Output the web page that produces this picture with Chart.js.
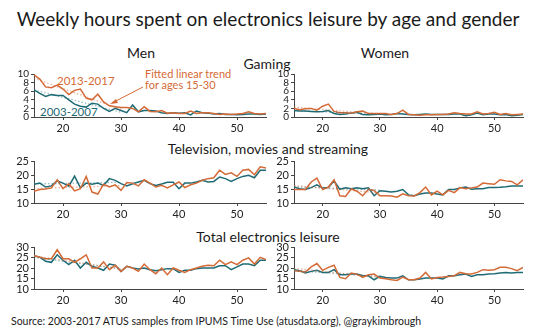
<!DOCTYPE html>
<html><head><meta charset="utf-8">
<script src="https://cdn.jsdelivr.net/npm/chart.js@4"></script>
<style>
html,body{margin:0;padding:0;background:#fff}
body{width:535px;height:334px;overflow:hidden;position:relative;font-family:Lato,"Noto Sans",sans-serif;color:#1a1a1a}
.t{position:absolute;white-space:nowrap;transform:translate(-50%,-50%);line-height:1}
.l{position:absolute;white-space:nowrap;line-height:1}
canvas{position:absolute}
svg{position:absolute;left:0;top:0}
</style></head><body>
<div class="t" style="left:268px;top:18px;font-size:19px">Weekly hours spent on electronics leisure by age and gender</div>
<div class="t" style="left:141px;top:53px;font-size:14px">Men</div>
<div class="t" style="left:385px;top:53px;font-size:14px">Women</div>
<div class="t" style="left:267px;top:64px;font-size:14px">Gaming</div>
<div class="t" style="left:268px;top:149px;font-size:14px">Television, movies and streaming</div>
<div class="t" style="left:268px;top:237px;font-size:14px">Total electronics leisure</div>
<div class="l" style="left:11px;top:316px;font-size:10.5px">Source: 2003-2017 ATUS samples from IPUMS Time Use (atusdata.org), @graykimbrough</div>
<div class="l" style="left:57px;top:75px;font-size:11.5px;color:#d46a36">2013-2017</div>
<div class="l" style="left:40px;top:106px;font-size:11.5px;color:#1f6b75">2003-2007</div>
<div class="l" style="left:145px;top:68px;font-size:11px;color:#d46a36;line-height:11px">Fitted linear trend<br>for ages 15-30</div>
<svg width="535" height="334"><line x1="143" y1="87" x2="112" y2="103" stroke="#d46a36" stroke-width="1"/><path d="M110,104 L118,103 L116,99 Z" fill="#d46a36"/></svg>
<canvas id="c1"></canvas><canvas id="c2"></canvas><canvas id="c3"></canvas>
<canvas id="c4"></canvas><canvas id="c5"></canvas><canvas id="c6"></canvas>
<script>
const ages = [15,16,17,18,19,20,21,22,23,24,25,26,27,28,29,30,31,32,33,34,35,36,37,38,39,40,41,42,43,44,45,46,47,48,49,50,51,52,53,54,55];
const trendAges = [15, 30];
const xTickValues = [20, 30, 40, 50];
const gamingTicks = [0, 2, 4, 6, 8, 10];
const tvTicks = [10, 15, 20, 25];
const totalTicks = [10, 15, 20, 25, 30];

const menGaming2003 = [6.3,5.5,4.8,5.2,5.0,5.0,4.0,3.0,2.5,2.3,3.2,3.0,2.0,1.3,2.0,1.5,1.0,2.8,1.2,1.5,1.5,1.4,1.0,0.8,1.0,0.9,1.0,0.5,1.4,1.0,0.9,0.7,0.8,0.6,0.6,0.5,0.6,0.7,0.7,0.6,0.7];
const menGaming2013 = [9.8,8.8,7.0,6.8,7.4,6.5,5.2,6.2,6.5,4.4,4.0,5.3,3.5,2.6,2.4,2.2,2.2,2.0,1.2,2.4,1.3,1.2,1.5,0.9,1.0,0.8,0.8,1.4,0.8,1.0,1.0,0.8,0.6,0.7,0.6,0.7,0.8,1.2,0.8,0.7,0.8];
const womenGaming2003 = [1.5,1.4,1.4,1.3,1.2,1.3,1.5,0.8,0.6,0.7,0.9,1.1,0.6,0.5,0.6,0.7,0.5,0.6,0.8,0.7,0.6,0.5,0.6,0.7,0.6,0.6,0.6,0.6,0.7,0.7,0.3,0.5,0.9,0.5,0.7,0.7,0.5,0.6,0.3,0.4,0.6];
const womenGaming2013 = [2.0,1.7,1.9,2.0,1.6,2.5,3.0,1.3,1.0,1.0,0.9,1.2,1.4,0.8,0.8,0.8,0.8,0.6,0.8,1.6,0.6,0.5,0.4,0.5,0.5,0.6,0.6,0.7,1.0,0.8,0.7,0.7,1.2,0.7,0.8,1.1,0.6,0.8,0.5,0.6,0.7];
const menTv2003 = [16.7,17.1,15.7,16.1,17.9,17.1,16.0,19.6,15.4,17.1,16.7,17.1,16.3,18.7,18.1,16.9,16.1,16.9,17.5,18.1,16.9,16.3,16.8,17.4,17.4,15.1,17.1,17.1,17.5,18.1,17.5,17.7,19.3,18.7,17.7,18.7,19.5,19.9,19.0,21.7,21.7];
const menTv2013 = [14.2,14.8,15.0,15.4,18.3,15.1,16.9,14.3,15.1,19.5,13.9,13.2,16.7,15.7,16.5,14.5,17.3,17.1,16.1,18.3,17.1,15.7,16.3,15.4,16.5,17.5,15.5,16.5,17.1,18.1,18.7,19.0,21.7,20.2,20.8,19.5,21.7,22.0,20.1,22.9,22.5];
const womenTv2003 = [15.7,15.1,14.8,15.5,16.5,15.4,15.5,17.9,14.9,15.4,15.1,15.4,15.1,15.4,12.6,14.4,14.2,13.9,14.2,14.8,12.9,12.6,13.2,13.6,13.6,13.2,12.9,14.8,14.8,15.4,15.7,14.9,15.1,15.1,15.5,15.5,15.6,15.8,16.1,16.1,16.1];
const womenTv2013 = [14.8,14.8,14.8,17.5,18.9,14.8,15.7,18.3,12.6,12.3,15.1,14.2,12.6,14.9,14.5,12.6,12.6,12.5,12.1,13.3,12.6,12.5,13.7,15.7,12.9,14.2,12.9,14.5,13.7,15.5,15.1,15.4,15.7,17.1,16.9,16.7,18.3,17.9,17.7,16.5,18.3];
const menTotal2003 = [25.9,25.2,23.2,22.7,26.3,23.7,21.6,23.7,20.0,22.7,20.8,20.0,18.9,21.9,21.3,18.4,20.8,20.0,19.5,20.0,19.2,18.7,19.2,19.7,19.7,17.9,18.9,18.9,19.7,20.0,20.0,20.0,21.1,21.1,19.2,20.5,21.9,21.9,21.1,23.7,23.7];
const menTotal2013 = [25.9,25.1,24.4,24.4,28.7,24.4,24.4,22.7,24.4,26.3,20.0,20.0,22.9,19.2,21.3,18.4,20.8,20.0,18.4,21.9,19.2,17.3,20.0,16.8,20.0,18.9,17.9,19.2,20.0,20.8,21.3,21.1,23.7,21.6,22.9,21.6,23.7,24.8,21.9,25.1,24.0];
const womenTotal2003 = [19.2,18.7,17.6,18.4,18.9,17.9,17.9,19.2,16.8,16.8,17.1,17.1,16.3,16.3,14.4,16.0,15.5,15.2,15.2,16.3,14.4,14.4,14.8,15.2,15.2,15.2,14.8,16.3,16.3,16.8,17.1,16.0,16.8,16.8,17.1,17.3,17.6,17.9,17.6,17.9,17.9];
const womenTotal2013 = [18.7,18.4,18.1,20.5,22.1,18.9,20.3,21.3,15.5,14.9,17.6,17.1,15.5,16.8,17.1,15.2,14.9,14.4,14.1,15.7,14.4,14.4,15.2,17.9,14.8,15.5,15.7,16.0,16.3,17.9,17.3,17.1,17.9,19.2,18.9,19.2,20.3,20.3,19.7,18.7,20.3];

const menGamingTrend2003 = [6.3, 1.1];
const menGamingTrend2013 = [9.0, 1.8];
const womenGamingTrend2003 = [1.5, 0.6];
const womenGamingTrend2013 = [2.3, 0.7];
const menTvTrend2003 = [16.8, 17.4];
const menTvTrend2013 = [15.2, 16.2];
const womenTvTrend2003 = [15.8, 14.6];
const womenTvTrend2013 = [16.2, 13.6];
const menTotalTrend2003 = [25.0, 19.6];
const menTotalTrend2013 = [25.8, 19.6];
const womenTotalTrend2003 = [18.7, 16.0];
const womenTotalTrend2013 = [19.8, 15.6];

const TEAL = '#1f6b75', ORANGE = '#d46a36';
const TEAL_T = 'rgba(31,107,117,0.45)', ORANGE_T = 'rgba(212,106,54,0.5)';
const cols = [[34, 266], [294, 523]];
const rows = [[74, 117], [161, 203], [247, 289]];

const panels = [
  {id:'c1', c:0, r:0, a:menGaming2003, b:menGaming2013, ta:menGamingTrend2003, tb:menGamingTrend2013, ticks:gamingTicks, yf:10},
  {id:'c2', c:1, r:0, a:womenGaming2003, b:womenGaming2013, ta:womenGamingTrend2003, tb:womenGamingTrend2013, ticks:gamingTicks, yf:10},
  {id:'c3', c:0, r:1, a:menTv2003, b:menTv2013, ta:menTvTrend2003, tb:menTvTrend2013, ticks:tvTicks, yf:11},
  {id:'c4', c:1, r:1, a:womenTv2003, b:womenTv2013, ta:womenTvTrend2003, tb:womenTvTrend2013, ticks:tvTicks, yf:11},
  {id:'c5', c:0, r:2, a:menTotal2003, b:menTotal2013, ta:menTotalTrend2003, tb:menTotalTrend2013, ticks:totalTicks, yf:11},
  {id:'c6', c:1, r:2, a:womenTotal2003, b:womenTotal2013, ta:womenTotalTrend2003, tb:womenTotalTrend2013, ticks:totalTicks, yf:11}
];

const pts = (xs, ys) => xs.map((x, i) => ({x: x, y: ys[i]}));
const PADT = 8, PADR = 6, YW = 34, XH = 18;

panels.forEach(p => {
  const [al, ar] = cols[p.c], [at, ab] = rows[p.r];
  const cv = document.getElementById(p.id);
  const left = al - YW, top = at - PADT;
  const w = ar - left + PADR, h = ab - top + XH;
  cv.style.left = left + 'px'; cv.style.top = top + 'px';
  cv.width = w; cv.height = h; cv.style.width = w + 'px'; cv.style.height = h + 'px';
  const line = (data, color, width, dash) => ({data, borderColor: color, borderWidth: width, borderDash: dash || [], pointRadius: 0, tension: 0, fill: false});
  new Chart(cv, {
    type: 'line',
    data: {datasets: [
      line(pts(trendAges, p.tb), ORANGE_T, 1.3, [1.5, 2]),
      line(pts(trendAges, p.ta), TEAL_T, 1.3, [1.5, 2]),
      line(pts(ages, p.b), ORANGE, 1.5),
      line(pts(ages, p.a), TEAL, 1.5)
    ]},
    options: {
      responsive: false, animation: false, devicePixelRatio: 1,
      layout: {padding: {top: PADT, right: PADR, left: 0, bottom: 0}},
      plugins: {legend: {display: false}, tooltip: {enabled: false}},
      scales: {
        x: {type: 'linear', min: 15, max: 55,
          afterBuildTicks: s => { s.ticks = xTickValues.map(v => ({value: v})); },
          afterFit: s => { s.height = XH; },
          grid: {display: true, drawOnChartArea: false, drawTicks: true, tickLength: 3, tickColor: '#444'},
          border: {display: true, color: '#444', width: 1},
          ticks: {font: {family: 'Lato', size: 11}, color: '#222', padding: 2, maxRotation: 0, autoSkip: false}
        },
        y: {min: p.ticks[0], max: p.ticks[p.ticks.length - 1],
          afterBuildTicks: s => { s.ticks = p.ticks.map(v => ({value: v})); },
          afterFit: s => { s.width = YW; },
          grid: {display: true, drawOnChartArea: false, drawTicks: true, tickLength: 3, tickColor: '#444'},
          border: {display: true, color: '#444', width: 1},
          ticks: {font: {family: 'Lato', size: p.yf, lineHeight: 1}, color: '#222', padding: 2, autoSkip: false}
        }
      }
    }
  });
});
</script>
</body></html>
